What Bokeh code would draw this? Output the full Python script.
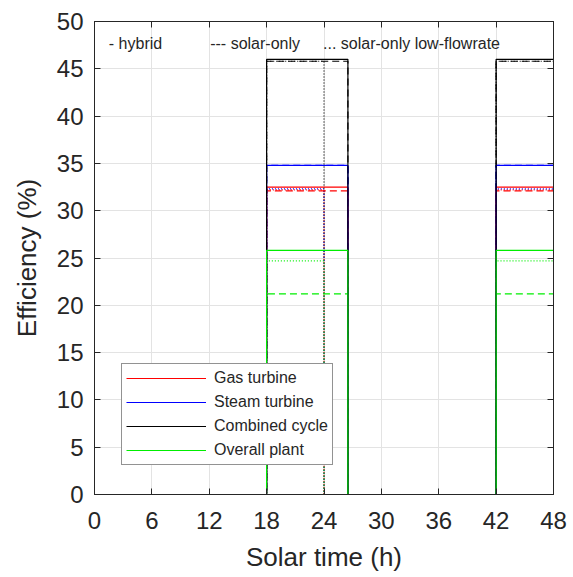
from bokeh.plotting import figure
from bokeh.models import LinearAxis, Range1d, Legend, LegendItem, FixedTicker, CustomJSTickFormatter
from bokeh.core.properties import value
from bokeh.embed import file_html
from bokeh.resources import INLINE

FONT = "Liberation Sans"

# ---- data ----
x_ticks = [0, 6, 12, 18, 24, 30, 36, 42, 48]
y_ticks = [0, 5, 10, 15, 20, 25, 30, 35, 40, 45, 50]

# hybrid (solid)
hybrid_t = [0, 18, 18, 26.5, 26.5, 42, 42, 48]
hybrid_gt = [0, 0, 32.5, 32.5, 0, 0, 32.5, 32.5]
hybrid_st = [0, 0, 34.8, 34.8, 0, 0, 34.8, 34.8]
hybrid_cc = [0, 0, 46.0, 46.0, 0, 0, 46.0, 46.0]
hybrid_op = [0, 0, 25.8, 25.8, 0, 0, 25.8, 25.8]

# solar-only (dashed)
solar_t = [0, 18, 18, 26.5, 26.5, 42, 42, 48]
solar_gt = [0, 0, 32.1, 32.1, 0, 0, 32.1, 32.1]
solar_st = [0, 0, 34.8, 34.8, 0, 0, 34.8, 34.8]
solar_cc = [0, 0, 45.8, 45.8, 0, 0, 45.8, 45.8]
solar_op = [0, 0, 21.2, 21.2, 0, 0, 21.2, 21.2]

# solar-only low-flowrate (dotted)
low_t = [0, 18, 18, 24, 24, 42, 42, 48]
low_gt = [0, 0, 32.2, 32.2, 0, 0, 32.2, 32.2]
low_st = [0, 0, 32.3, 32.3, 0, 0, 32.3, 32.3]
low_cc = [0, 0, 45.8, 45.8, 0, 0, 45.8, 45.8]
low_op = [0, 0, 24.7, 24.7, 0, 0, 24.7, 24.7]

series_names = ["Gas turbine", "Steam turbine", "Combined cycle", "Overall plant"]
colors = ["#ff0000", "#0000ff", "#000000", "#00ee00"]

notes = ["- hybrid", "--- solar-only", "... solar-only low-flowrate"]
notes_x = [1.5, 12.1, 23.9]
notes_y = [47.7, 47.7, 47.7]

p = figure(width=573, height=577, output_backend="svg", toolbar_location=None,
           x_range=Range1d(0, 48), y_range=Range1d(0, 50),
           min_border_left=94, min_border_right=20, min_border_top=21, min_border_bottom=83)
p.background_fill_color = "white"
p.border_fill_color = "white"
p.outline_line_color = "#262626"
p.outline_line_width = 1

for ax, ticks in ((p.xaxis[0], x_ticks), (p.yaxis[0], y_ticks)):
    ax.ticker = FixedTicker(ticks=ticks)
    ax.major_tick_in = 6
    ax.major_tick_out = 0
    ax.minor_tick_line_color = None
    ax.axis_line_color = "#262626"
    ax.major_tick_line_color = "#262626"
    ax.major_label_text_font = FONT
    ax.major_label_text_font_size = "24px"
    ax.major_label_text_color = "#262626"
    ax.axis_label_text_font = FONT
    ax.axis_label_text_font_size = "26px"
    ax.axis_label_text_font_style = "normal"
    ax.axis_label_text_color = "#262626"

p.xaxis.axis_label = "Solar time (h)"
p.yaxis.axis_label = "Efficiency (%)"
p.xaxis.major_label_standoff = 17
p.xaxis.axis_label_standoff = 10
p.yaxis.major_label_standoff = 11
p.yaxis.axis_label_standoff = 12

for loc, ticks in (("right", y_ticks), ("above", x_ticks)):
    ax = LinearAxis(ticker=FixedTicker(ticks=ticks),
                    formatter=CustomJSTickFormatter(code="return ''"))
    ax.major_tick_in = 6
    ax.major_tick_out = 0
    ax.minor_tick_line_color = None
    ax.axis_line_color = "#262626"
    ax.major_tick_line_color = "#262626"
    ax.major_label_standoff = 0
    p.add_layout(ax, loc)

p.xgrid.ticker = FixedTicker(ticks=x_ticks)
p.ygrid.ticker = FixedTicker(ticks=y_ticks)
p.grid.grid_line_color = "#e3e3e3"
p.grid.grid_line_width = 1

# low-flowrate (dotted)
for ys, c in zip([low_gt, low_st, low_cc, low_op], colors):
    p.line(low_t, ys, line_color=c, line_width=1.2, line_dash="1 2")
# solar-only (dashed)
for ys, c in zip([solar_gt, solar_st, solar_cc, solar_op], colors):
    p.line(solar_t, ys, line_color=c, line_width=1.2, line_dash="7 4")
# hybrid (solid)
hyb_renderers = []
for ys, c in zip([hybrid_gt, hybrid_st, hybrid_cc, hybrid_op], colors):
    r = p.line(hybrid_t, ys, line_color=c, line_width=1.2)
    hyb_renderers.append(r)

p.text(x=notes_x, y=notes_y, text=notes, text_font=value(FONT), text_font_size="16px",
       text_color="#262626", text_baseline="middle", text_align="left")

legend = Legend(items=[LegendItem(label=n, renderers=[r]) for n, r in zip(series_names, hyb_renderers)],
                location=(27, 29))
legend.label_text_font = FONT
legend.label_text_font_size = "16px"
legend.label_text_color = "#262626"
legend.glyph_width = 80
legend.glyph_height = 20
legend.label_height = 20
legend.label_standoff = 8
legend.spacing = 4
legend.padding = 4
legend.margin = 0
legend.border_line_color = "#262626"
legend.border_line_width = 1
legend.background_fill_alpha = 1
p.add_layout(legend, "center")

open("out.html", "w").write(file_html(p, INLINE))
